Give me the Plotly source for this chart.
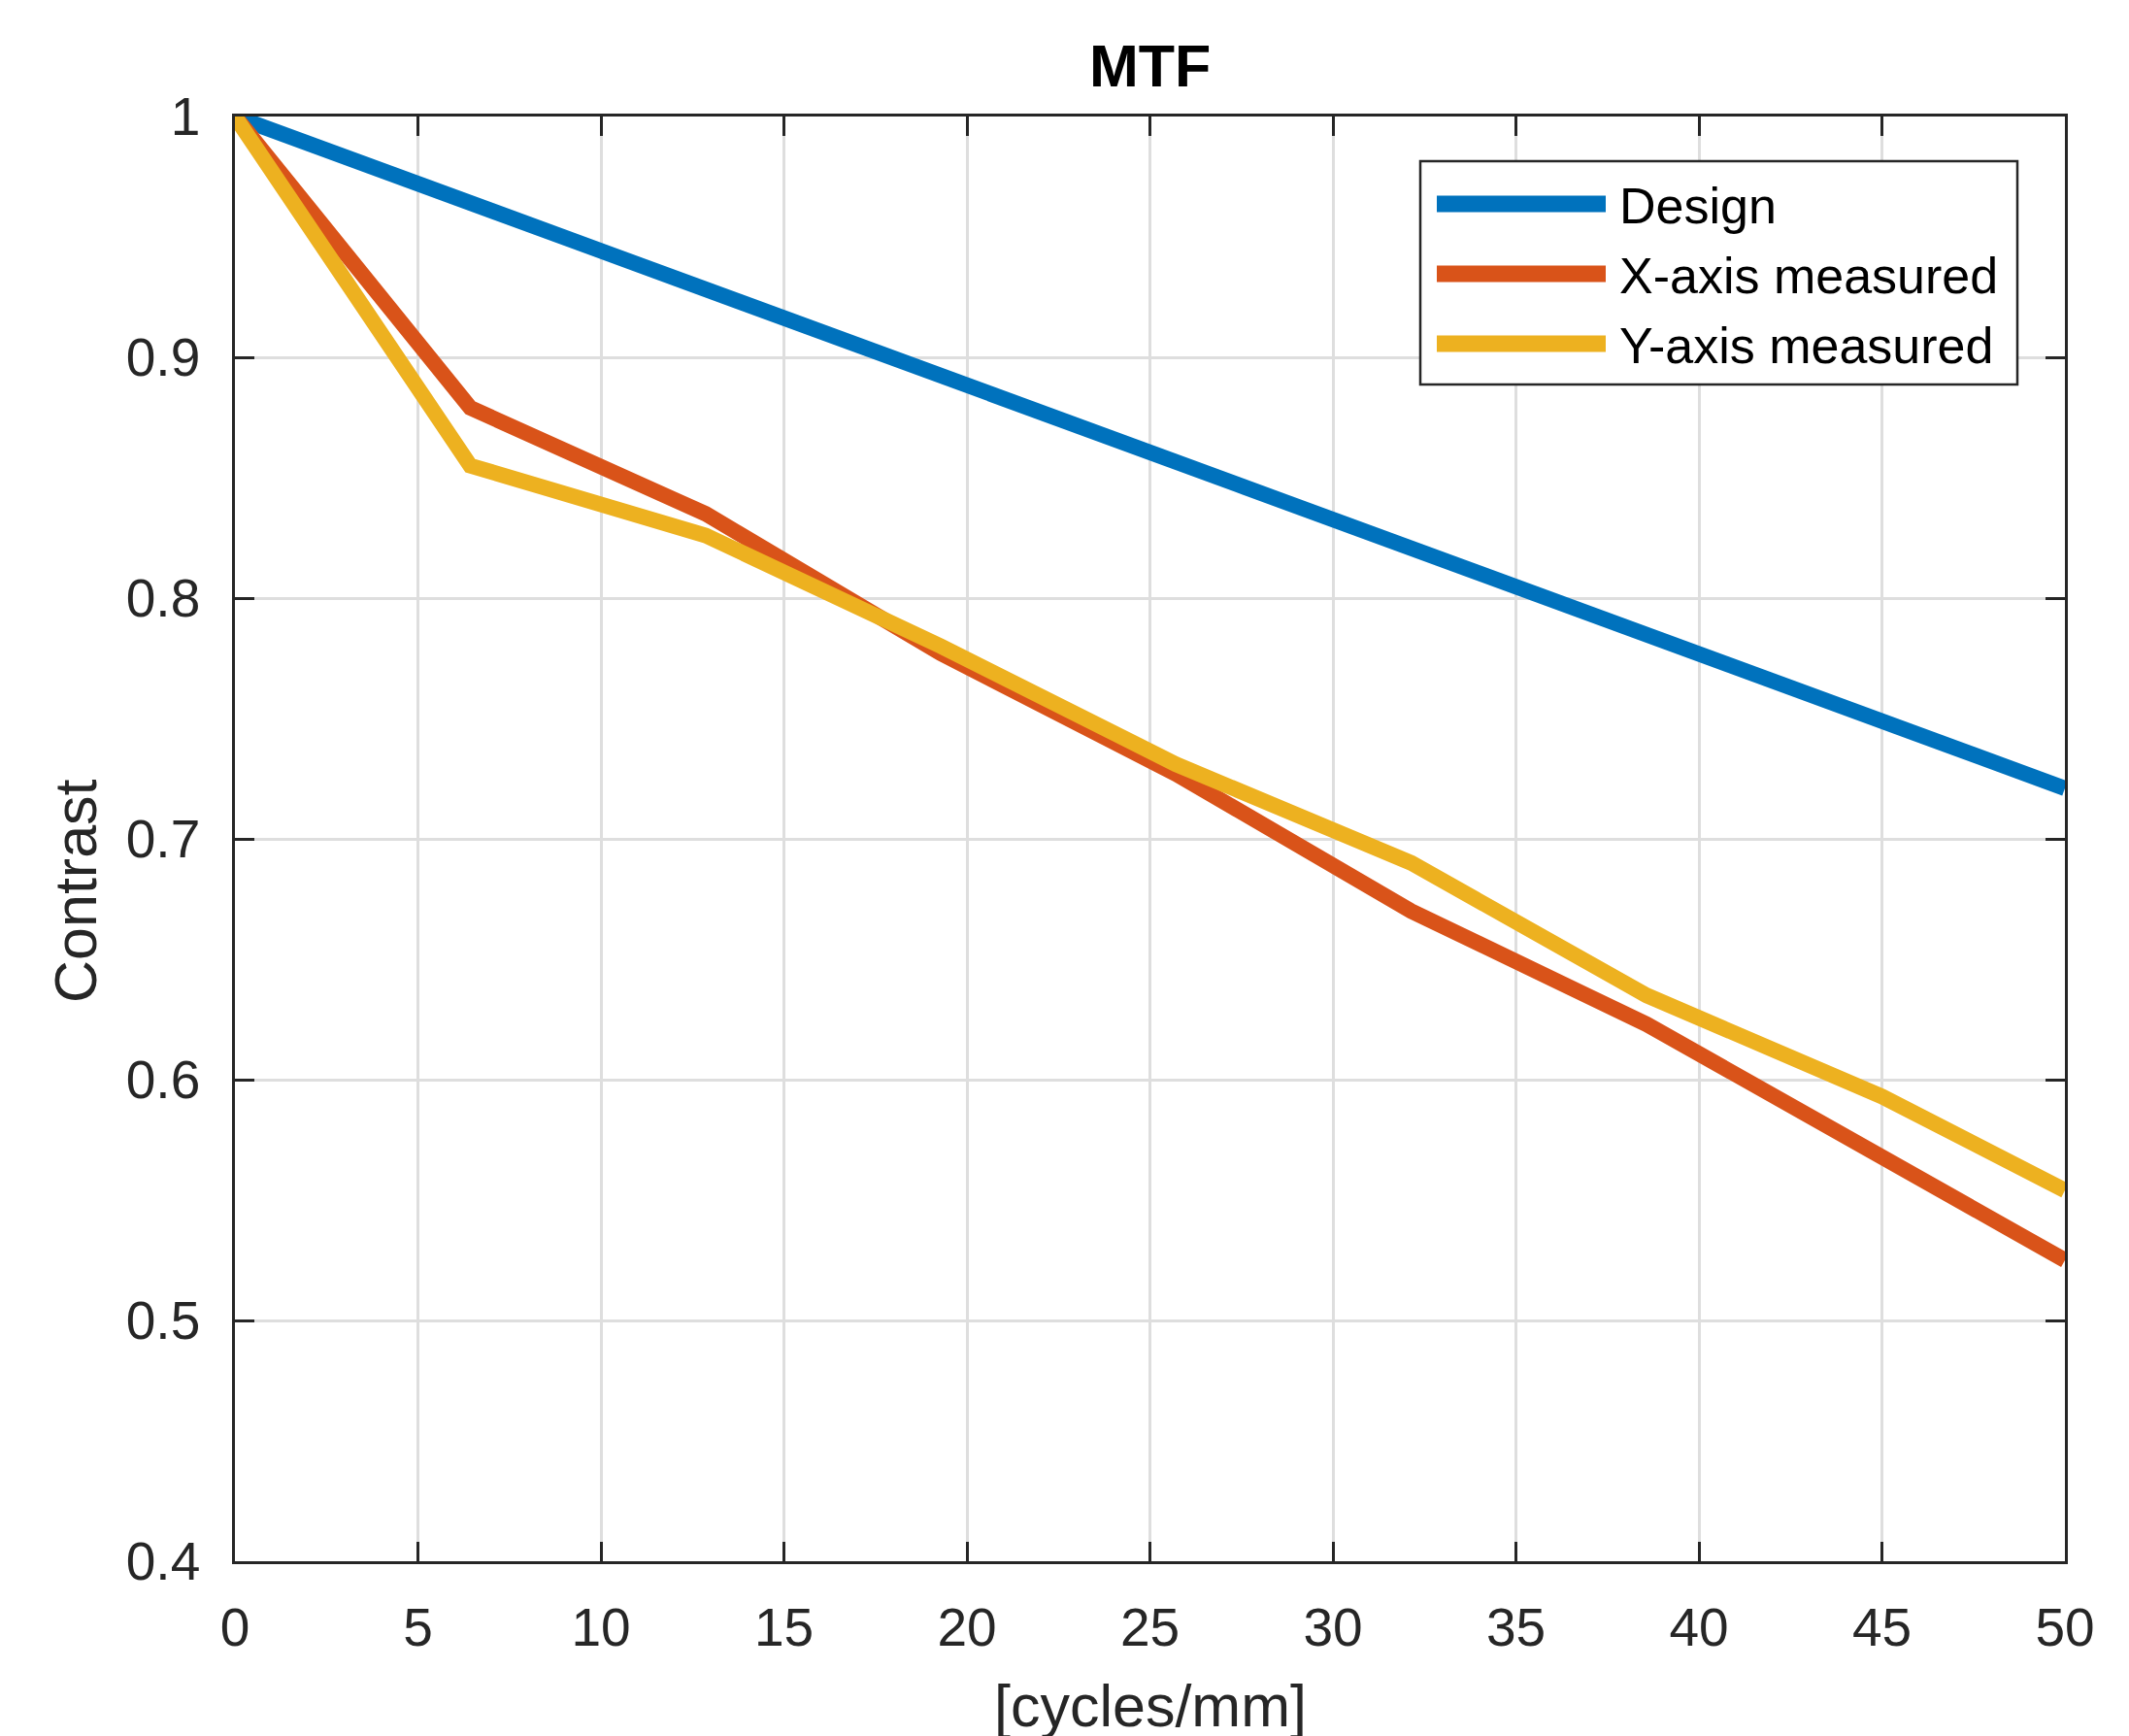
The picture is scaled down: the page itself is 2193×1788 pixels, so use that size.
import plotly.graph_objects as go

# ---- data ----
freq = [0, 6.43, 12.86, 19.29, 25.71, 32.14, 38.57, 45.0, 50.0]
design = [1.000, 0.964, 0.928, 0.892, 0.857, 0.821, 0.785, 0.749, 0.721]
x_measured = [1.000, 0.879, 0.835, 0.777, 0.727, 0.670, 0.623, 0.567, 0.525]
y_measured = [1.000, 0.855, 0.826, 0.780, 0.731, 0.690, 0.635, 0.593, 0.554]
series_names = ["Design", "X-axis measured", "Y-axis measured"]
series_colors = ["#0072BD", "#D95319", "#EDB120"]
x_ticks = [0, 5, 10, 15, 20, 25, 30, 35, 40, 45, 50]
y_ticks = [0.4, 0.5, 0.6, 0.7, 0.8, 0.9, 1.0]
y_tick_labels = ["0.4", "0.5", "0.6", "0.7", "0.8", "0.9", "1"]

OFF = 8  # default page body margin
W, H = 2193 - OFF, 1788 - OFF
L, T = 242 - OFF, 120 - OFF
R = W - (2127 - OFF)
B = H - (1608 - OFF)
PW, PH = W - L - R, H - T - B
FONT = "Liberation Sans, Arial, Helvetica, sans-serif"
AX = "#262626"
LW = 16

fig = go.Figure()
for name, vals, col in zip(series_names, [design, x_measured, y_measured], series_colors):
    fig.add_trace(go.Scatter(x=freq, y=vals, mode="lines", name=name,
                             line=dict(color=col, width=LW), showlegend=False))

# helpers: window pixel -> paper coordinate
def px_x(p):
    return (p - OFF - L) / PW

def px_y(p):
    return 1 - (p - OFF - T) / PH

shapes = []
annotations = []
# legend box
shapes.append(dict(type="rect", xref="paper", yref="paper",
                   x0=px_x(1463), x1=px_x(2078), y0=px_y(396), y1=px_y(166),
                   line=dict(color=AX, width=2.5), fillcolor="white", layer="above"))
rows = [210, 282, 354]
for name, col, ry in zip(series_names, series_colors, rows):
    shapes.append(dict(type="line", xref="paper", yref="paper",
                       x0=px_x(1480), x1=px_x(1654), y0=px_y(ry), y1=px_y(ry),
                       line=dict(color=col, width=17), layer="above"))
    annotations.append(dict(text=name, xref="paper", yref="paper",
                            x=px_x(1666), y=px_y(ry + 2), xanchor="left", yanchor="middle",
                            showarrow=False, font=dict(family=FONT, size=52, color="black")))

# axis titles
annotations.append(dict(text="[cycles/mm]", xref="paper", yref="paper",
                        x=0.5, y=px_y(1757), xanchor="center", yanchor="middle",
                        showarrow=False, font=dict(family=FONT, size=61, color=AX)))
annotations.append(dict(text="Contrast", xref="paper", yref="paper",
                        x=px_x(78), y=px_y(918), xanchor="center", yanchor="middle",
                        textangle=-90, showarrow=False,
                        font=dict(family=FONT, size=61, color=AX)))
annotations.append(dict(text="<b>MTF</b>", xref="paper", yref="paper",
                        x=0.5, y=px_y(68), xanchor="center", yanchor="middle",
                        showarrow=False, font=dict(family=FONT, size=61, color="black")))

axis_common = dict(ticks="inside", ticklen=20, tickwidth=2.5, tickcolor=AX,
                   showline=True, linecolor=AX, linewidth=2.5, mirror="ticks",
                   showgrid=True, gridcolor="#dedede", gridwidth=2.5, zeroline=False,
                   tickfont=dict(family=FONT, size=55, color=AX))

fig.update_layout(
    width=W, height=H,
    margin=dict(l=L, r=R, t=T, b=B, autoexpand=False),
    paper_bgcolor="white", plot_bgcolor="white",
    xaxis=dict(range=[0, 50], tickvals=x_ticks, ticklabelstandoff=18, **axis_common),
    yaxis=dict(range=[0.4, 1.0], tickvals=y_ticks, ticktext=y_tick_labels,
               ticklabelstandoff=22, **axis_common),
    shapes=shapes, annotations=annotations,
    font=dict(family=FONT),
)

fig.write_html("out.html")
